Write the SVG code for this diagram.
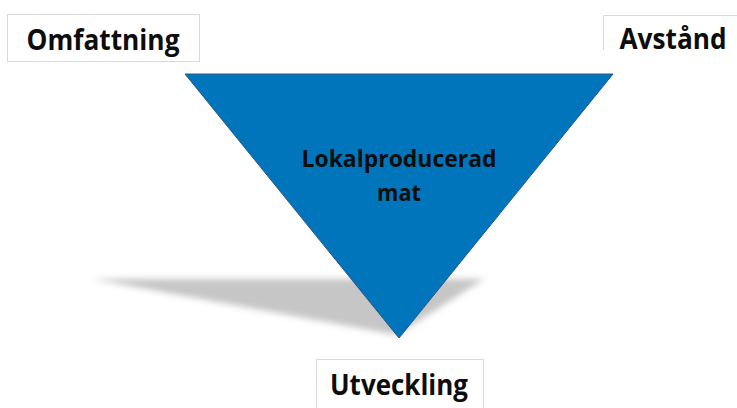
<svg xmlns="http://www.w3.org/2000/svg" width="737" height="408" viewBox="0 0 737 408">
<defs>
<style>
.box{fill:#fff;stroke:#d9d9d9;stroke-width:1}
.lbl{font-family:"Open Sans","Liberation Sans",sans-serif;font-weight:bold;fill:#0d0d0d}
</style>
<filter id="blur" x="-10%" y="-30%" width="120%" height="160%"><feGaussianBlur stdDeviation="3"/></filter>
</defs>
<g id="shadow">
<polygon points="92,279 484,279 397,335" fill="#c6c6c6" filter="url(#blur)"/>
</g>
<g id="triangle">
<polygon points="185,74 613,74 399,338" fill="#0075bb" stroke="#2a5680" stroke-width="1"/>
<text class="lbl" x="399" y="167" font-size="23" text-anchor="middle" textLength="195" lengthAdjust="spacingAndGlyphs">Lokalproducerad</text>
<text class="lbl" x="399" y="201" font-size="23" text-anchor="middle" textLength="44" lengthAdjust="spacingAndGlyphs">mat</text>
</g>
<g id="omfattning">
<rect class="box" x="7.5" y="14.5" width="192" height="47"/>
<text class="lbl" x="103" y="50" font-size="29" text-anchor="middle" textLength="153" lengthAdjust="spacingAndGlyphs">Omfattning</text>
</g>
<g id="avstand">
<polyline points="603.5,50 603.5,15.5 737,15.5" fill="none" stroke="#d9d9d9"/>
<text class="lbl" x="673" y="49" font-size="29" text-anchor="middle" textLength="107" lengthAdjust="spacingAndGlyphs">Avstånd</text>
</g>
<g id="utveckling">
<polyline points="316.5,408 316.5,359.5 483.5,359.5 483.5,408" fill="none" stroke="#d9d9d9"/>
<text class="lbl" x="399" y="395" font-size="29" text-anchor="middle" textLength="138" lengthAdjust="spacingAndGlyphs">Utveckling</text>
</g>
<g id="connectors"/>
</svg>
